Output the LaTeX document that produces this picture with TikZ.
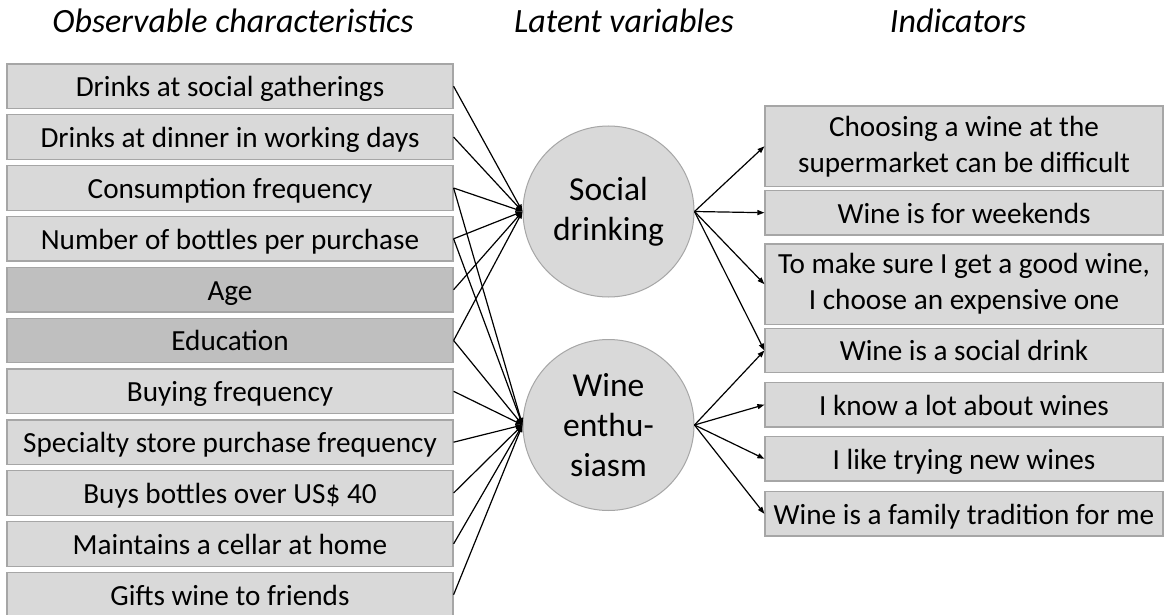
\documentclass[tikz,border=0pt]{standalone}
\usepackage{fontspec}
\setmainfont{Carlito}
\usetikzlibrary{arrows.meta}
\definecolor{boxfill}{HTML}{D9D9D9}
\definecolor{boxdark}{HTML}{BFBFBF}
\definecolor{boxline}{HTML}{A6A6A6}
\begin{document}
\begin{tikzpicture}[x=1pt,y=-1pt,
  obs/.style={draw=boxline, line width=1.2pt, fill=boxfill, minimum width=446pt, minimum height=44.5pt, inner sep=0pt, text height=26pt, text depth=5.2pt, font=\fontsize{29.2}{36}\selectfont},
  obsdark/.style={obs, fill=boxdark},
  indbase/.style={draw=boxline, line width=1.2pt, fill=boxfill, minimum width=398pt, minimum height=44.5pt, inner sep=0pt, align=center, font=\fontsize{29.2}{36}\selectfont},
  ind/.style={indbase, text height=26pt, text depth=5.2pt},
  indtall/.style={indbase, minimum height=80.5pt},
  latent/.style={circle, draw=boxline, line width=1pt, fill=boxfill, minimum size=171pt, inner sep=0pt, align=center, font=\fontsize{33.5}{40}\selectfont},
  heading/.style={anchor=base, inner sep=0pt, font=\fontsize{34}{40}\selectfont\itshape},
  link/.style={line width=1.2pt, -{Triangle[length=7pt,width=5pt]}}
]
\useasboundingbox (0,0) rectangle (1164,615);
\fill[white] (0,0) rectangle (1164,615);

% headings
\node[heading] (h1) at (233,33) {Observable characteristics};
\node[heading] (h2) at (624,33) {Latent variables};
\node[heading] (h3) at (958,33) {Indicators};

% observable characteristics
\node[obs]     (l1)  at (230,86.3)  {Drinks at social gatherings};
\node[obs]     (l2)  at (230,137.1) {Drinks at dinner in working days};
\node[obs]     (l3)  at (230,188.0) {Consumption frequency};
\node[obs]     (l4)  at (230,238.8) {Number of bottles per purchase};
\node[obsdark] (l5)  at (230,289.7) {Age};
\node[obsdark] (l6)  at (230,340.5) {Education};
\node[obs]     (l7)  at (230,391.3) {Buying frequency};
\node[obs]     (l8)  at (230,442.2) {Specialty store purchase frequency};
\node[obs]     (l9)  at (230,493.0) {Buys bottles over US\$ 40};
\node[obs]     (l10) at (230,543.9) {Maintains a cellar at home};
\node[obs]     (l11) at (230,594.7) {Gifts wine to friends};

% latent variables
\node[latent] (sd) at (608.5,211.5) {Social\\drinking};
\node[latent] (we) at (608.5,425) {Wine\\enthu-\\siasm};

% indicators
\node[indtall] (r1) at (964,146.3) {Choosing a wine at the\\supermarket can be difficult};
\node[ind]     (r2) at (964,212.7) {Wine is for weekends};
\node[indtall] (r3) at (964,284.2) {To make sure I get a good wine,\\I choose an expensive one};
\node[ind]     (r4) at (964,350.5) {Wine is a social drink};
\node[ind]     (r5) at (964,404.7) {I know a lot about wines};
\node[ind]     (r6) at (964,458.8) {I like trying new wines};
\node[ind]     (r7) at (964,513.8) {Wine is a family tradition for me};

% left connectors
\foreach \s in {l1,l2,l3,l4,l5,l6}
  \draw[link] (\s.east) -- (sd.west);
\foreach \s in {l3,l4,l6,l7,l8,l9,l10,l11}
  \draw[link] (\s.east) -- (we.west);

% right connectors
\foreach \t in {r1,r2,r3,r4}
  \draw[link] (sd.east) -- (\t.west);
\foreach \t in {r4,r5,r6,r7}
  \draw[link] (we.east) -- (\t.west);
\end{tikzpicture}
\end{document}
